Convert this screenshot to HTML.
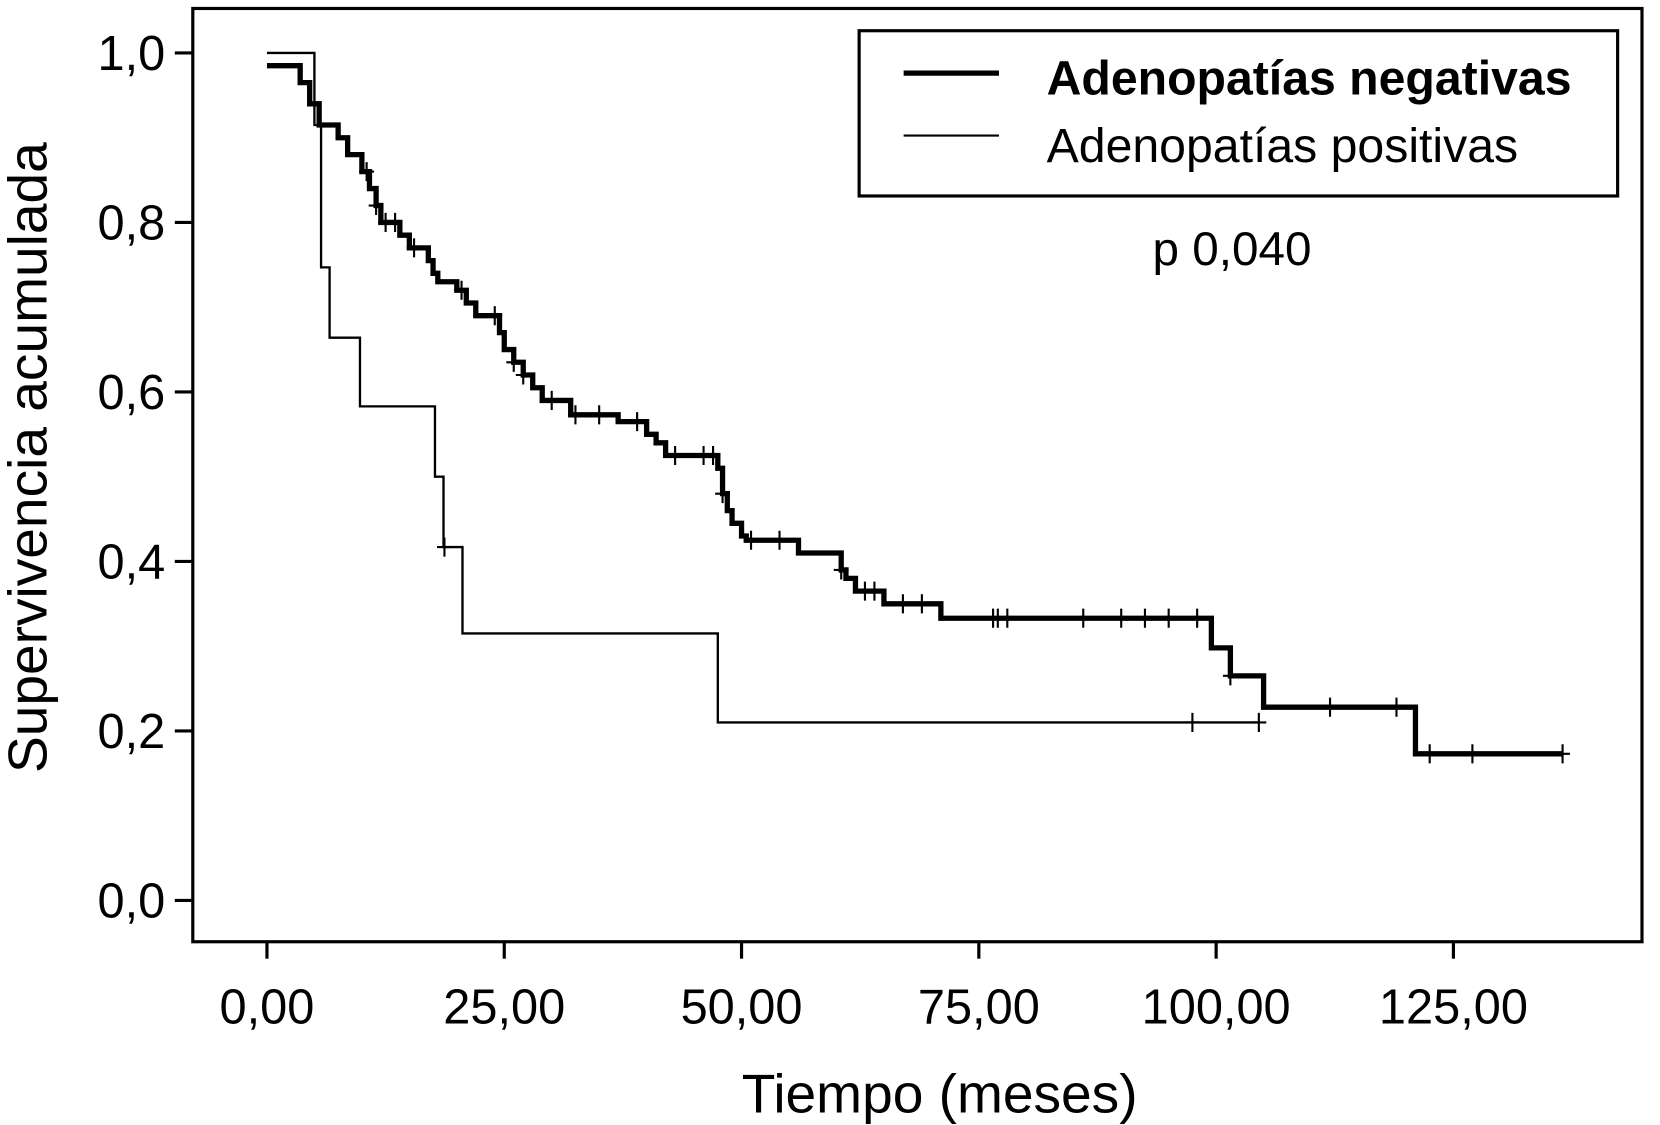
<!DOCTYPE html>
<html><head><meta charset="utf-8"><style>
html,body{margin:0;padding:0;background:#fff;}
svg{display:block;font-family:"Liberation Sans",Arial,sans-serif;}
</style></head><body>
<svg id="chart" width="1660" height="1125" viewBox="0 0 1567 1062" preserveAspectRatio="none">
<rect x="182" y="8" width="1368" height="881" fill="none" stroke="#000" stroke-width="3"/>
<g id="axes"></g>
<g id="series"></g>
<g>
<rect x="811" y="29" width="716" height="156" fill="#fff" stroke="#000" stroke-width="3"/>
<line x1="853" y1="69" x2="943" y2="69" stroke="#000" stroke-width="5"/>
<text x="988" y="89" font-size="45.5" font-weight="bold">Adenopatías negativas</text>
<line x1="853" y1="128" x2="943" y2="128" stroke="#000" stroke-width="2"/>
<text x="988" y="153" font-size="45.5">Adenopatías positivas</text>
</g>
<text x="1088" y="250" font-size="45">p 0,040</text>
<text x="887" y="1050" font-size="52" text-anchor="middle">Tiempo (meses)</text>
<text transform="translate(44,432) rotate(-90)" font-size="52" text-anchor="middle">Supervivencia acumulada</text>
</svg>
<script>
const xTicks=[0,25,50,75,100,125];
const xTickLabels=["0,00","25,00","50,00","75,00","100,00","125,00"];
const yTicks=[0,0.2,0.4,0.6,0.8,1.0];
const yTickLabels=["0,0","0,2","0,4","0,6","0,8","1,0"];
const negTimes=[0,3.5,4.5,5.5,7.5,8.5,10,10.8,11.5,12,14,15,17,17.5,18,20,21,22,24.5,25,26,27,28,29,32,37,40,41,42,47.5,48,48.5,49,50,50.5,56,60.5,61,62,65,71,99.5,101.5,105,121];
const negSurv=[0.985,0.965,0.94,0.915,0.9,0.88,0.86,0.84,0.82,0.8,0.785,0.77,0.755,0.74,0.73,0.72,0.705,0.69,0.67,0.65,0.635,0.62,0.605,0.59,0.573,0.565,0.55,0.54,0.525,0.51,0.48,0.46,0.445,0.43,0.425,0.41,0.39,0.38,0.365,0.35,0.333,0.298,0.265,0.228,0.173];
const negEnd=136.5;
const negCensor=[10.5,11.5,12.5,13.5,15.5,20.5,24,26,27,30,32.5,35,39,43,46,47,48,51,54,60.5,63,64,67,69,76.5,77,78,86,90,92.5,95,98,101.5,112,119,122.5,127,136.5];
const posTimes=[0,5,5.7,6.6,9.8,17.7,18.6,20.6,47.5];
const posSurv=[1.0,0.915,0.747,0.664,0.583,0.5,0.417,0.315,0.21];
const posEnd=104.5;
const posCensor=[18.7,97.5,104.5];

const NS="http://www.w3.org/2000/svg";
function xs(t){return 252+t*8.96;}
function ys(v){return 850-v*800;}
function mk(tag,attrs,parent){const e=document.createElementNS(NS,tag);for(const k in attrs)e.setAttribute(k,attrs[k]);parent.appendChild(e);return e;}
const axes=document.getElementById('axes');
xTicks.forEach((t,i)=>{
  const l=mk('line',{x1:xs(t),x2:xs(t),y1:889,y2:905,stroke:'#000','stroke-width':3},axes);
  
  
  const tx=mk('text',{x:xs(t),y:966,'font-size':46,'text-anchor':'middle'},axes);
  tx.textContent=xTickLabels[i];
  
  
});
yTicks.forEach((v,i)=>{
  const l=mk('line',{x1:165,x2:182,y1:ys(v),y2:ys(v),stroke:'#000','stroke-width':3},axes);
  
  
  const tx=mk('text',{x:156,y:ys(v)+16,'font-size':46,'text-anchor':'end'},axes);
  tx.textContent=yTickLabels[i];
  
  
});
function survAt(times,surv,t){let s=surv[0];for(let i=0;i<times.length;i++){if(times[i]<=t)s=surv[i];}return s;}
function drawCurve(times,surv,end,censor,w,name){
  const g=document.getElementById('series');
  let d='M'+xs(times[0])+','+ys(surv[0]);
  for(let i=1;i<times.length;i++){d+=' H'+xs(times[i])+' V'+ys(surv[i]);}
  d+=' H'+xs(end);
  const p=mk('path',{d:d,fill:'none',stroke:'#000','stroke-width':w,'stroke-linejoin':'miter'},g);
  
  
  censor.forEach(t=>{
    const y=ys(survAt(times,surv,t));
    const c=mk('path',{d:'M'+(xs(t)-7)+','+y+' H'+(xs(t)+7)+' M'+xs(t)+','+(y-9)+' V'+(y+9),stroke:'#000','stroke-width':2,fill:'none'},g);
    
    
  });
}
drawCurve(negTimes,negSurv,negEnd,negCensor,5,'negativas');
drawCurve(posTimes,posSurv,posEnd,posCensor,2.2,'positivas');
</script>
</body></html>
